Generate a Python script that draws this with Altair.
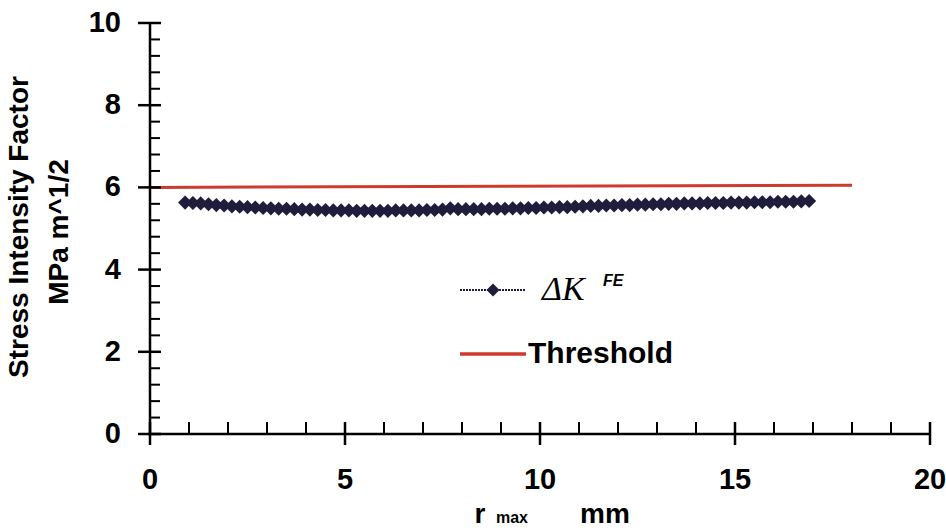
import altair as alt
import pandas as pd

# ---- data ----
r_max = [0.9, 1.1, 1.3, 1.5, 1.7, 1.9, 2.1, 2.3, 2.5, 2.7, 2.9, 3.1, 3.3, 3.5, 3.7, 3.9,
         4.1, 4.3, 4.5, 4.7, 4.9, 5.1, 5.3, 5.5, 5.7, 5.9, 6.1, 6.3, 6.5, 6.7, 6.9, 7.1,
         7.3, 7.5, 7.7, 7.9, 8.1, 8.3, 8.5, 8.7, 8.9, 9.1, 9.3, 9.5, 9.7, 9.9, 10.1, 10.3,
         10.5, 10.7, 10.9, 11.1, 11.3, 11.5, 11.7, 11.9, 12.1, 12.3, 12.5, 12.7, 12.9, 13.1,
         13.3, 13.5, 13.7, 13.9, 14.1, 14.3, 14.5, 14.7, 14.9, 15.1, 15.3, 15.5, 15.7, 15.9,
         16.1, 16.3, 16.5, 16.7, 16.9]
dK_fe = [5.63, 5.62, 5.61, 5.59, 5.57, 5.56, 5.54, 5.53, 5.52, 5.51, 5.50, 5.49, 5.48, 5.48,
         5.47, 5.46, 5.46, 5.45, 5.45, 5.44, 5.44, 5.44, 5.43, 5.43, 5.43, 5.43, 5.43, 5.44,
         5.44, 5.44, 5.44, 5.45, 5.45, 5.46, 5.49, 5.47, 5.47, 5.47, 5.47, 5.48, 5.48, 5.48,
         5.49, 5.49, 5.50, 5.50, 5.51, 5.51, 5.52, 5.52, 5.53, 5.54, 5.55, 5.55, 5.56, 5.56,
         5.57, 5.57, 5.58, 5.58, 5.59, 5.59, 5.60, 5.60, 5.61, 5.61, 5.61, 5.62, 5.62, 5.62,
         5.63, 5.63, 5.63, 5.64, 5.64, 5.64, 5.65, 5.65, 5.65, 5.66, 5.67]
thr_x = [0, 18]
thr_y = [6.0, 6.05]

x_major = [0, 5, 10, 15, 20]
x_minor = [1, 2, 3, 4, 6, 7, 8, 9, 11, 12, 13, 14, 16, 17, 18, 19]
y_major = [0, 2, 4, 6, 8, 10]
y_minor = [0.4, 0.8, 1.2, 1.6, 2.4, 2.8, 3.2, 3.6, 4.4, 4.8, 5.2, 5.6,
           6.4, 6.8, 7.2, 7.6, 8.4, 8.8, 9.2, 9.6]

W, H = 780, 411
FONT = "Liberation Sans"
NAVY = "#1e1e3c"
RED = "#cf3a2e"

xs = alt.Scale(domain=[0, 20], nice=False, zero=True)
ys = alt.Scale(domain=[0, 10], nice=False, zero=True)

series = pd.DataFrame({"r": r_max, "k": dK_fe})
thr = pd.DataFrame({"r": thr_x, "k": thr_y})
xmaj = pd.DataFrame({"v": x_major, "lab": [str(v) for v in x_major]})
xmin = pd.DataFrame({"v": x_minor})
ymaj = pd.DataFrame({"v": y_major, "lab": [str(v) for v in y_major]})
ymin = pd.DataFrame({"v": y_minor})
one = pd.DataFrame({"a": [0]})

X = lambda f: alt.X(f, type="quantitative", scale=xs, axis=None)
Y = lambda f: alt.Y(f, type="quantitative", scale=ys, axis=None)

threshold = alt.Chart(thr).mark_line(color=RED, strokeWidth=3).encode(x=X("r"), y=Y("k"))
s_line = alt.Chart(series).mark_line(color=NAVY, strokeWidth=3).encode(
    x=X("r"), y=Y("k"))
s_pts = alt.Chart(series).mark_point(shape="diamond", filled=True, size=200, color=NAVY,
                                     opacity=1).encode(x=X("r"), y=Y("k"))

axis_x = alt.Chart(one).mark_rule(color="black", strokeWidth=2.5).encode(
    x=alt.value(-2), x2=alt.value(W + 1), y=alt.value(H))
axis_y = alt.Chart(one).mark_rule(color="black", strokeWidth=2.5).encode(
    x=alt.value(0), y=alt.value(0), y2=alt.value(H + 1))

xt_min = alt.Chart(xmin).mark_rule(color="black", strokeWidth=2).encode(
    x=X("v"), y=alt.value(H - 12), y2=alt.value(H))
xt_maj = alt.Chart(xmaj).mark_rule(color="black", strokeWidth=2.5).encode(
    x=X("v"), y=alt.value(H - 12), y2=alt.value(H + 11))
yt_min = alt.Chart(ymin).mark_rule(color="black", strokeWidth=2).encode(
    y=Y("v"), x=alt.value(0), x2=alt.value(10))
yt_maj = alt.Chart(ymaj).mark_rule(color="black", strokeWidth=2.5).encode(
    y=Y("v"), x=alt.value(-12), x2=alt.value(11))

x_lab = alt.Chart(xmaj).mark_text(font=FONT, fontWeight="bold", fontSize=29, baseline="middle",
                                  align="center", color="black").encode(
    x=X("v"), y=alt.value(H + 46), text="lab:N")
y_lab = alt.Chart(ymaj).mark_text(font=FONT, fontWeight="bold", fontSize=29, baseline="middle",
                                  align="right", color="black").encode(
    y=Y("v"), x=alt.value(-29), text="lab:N")

def txt(t, x, y, size, weight="bold", font=FONT, angle=0, align="center", baseline="middle",
        style="normal", color="black"):
    return alt.Chart(one).mark_text(text=t, font=font, fontSize=size, fontWeight=weight,
                                    angle=angle, align=align, baseline=baseline,
                                    fontStyle=style, color=color).encode(
        x=alt.value(x), y=alt.value(y))

ytitle1 = txt("Stress Intensity Factor", -130, 204, 28, angle=270)
ytitle2 = txt("MPa m^1/2", -90, 209, 28, angle=270)
xt_r = txt("r", 330, 500, 28, align="center", baseline="alphabetic")
xt_max = txt("max", 362, 500, 16, align="center", baseline="alphabetic")
xt_mm = txt("mm", 455, 500, 28, align="center", baseline="alphabetic")

# legend
leg1_line = alt.Chart(one).mark_rule(color=NAVY, strokeWidth=2, strokeDash=[2, 1]).encode(
    x=alt.value(310), x2=alt.value(376), y=alt.value(267))
leg1_pt = alt.Chart(one).mark_point(shape="diamond", filled=True, size=170, color=NAVY,
                                    opacity=1).encode(x=alt.value(343), y=alt.value(267))
leg1_txt = txt("\u0394K", 392, 267, 34, weight="normal", font="Liberation Serif",
               style="italic", align="left")
leg1_sup = txt("FE", 453, 258, 16, style="italic", align="left")
leg2_line = alt.Chart(one).mark_rule(color=RED, strokeWidth=3.5).encode(
    x=alt.value(310), x2=alt.value(376), y=alt.value(331))
leg2_txt = txt("Threshold", 378, 331, 30, align="left")

chart = alt.layer(
    threshold, s_line, s_pts,
    axis_x, axis_y, xt_min, xt_maj, yt_min, yt_maj, x_lab, y_lab,
    ytitle1, ytitle2, xt_r, xt_max, xt_mm,
    leg1_line, leg1_pt, leg1_txt, leg1_sup, leg2_line, leg2_txt,
).properties(
    width=W, height=H,
    autosize=alt.AutoSizeParams(type="none"),
    padding={"left": 150, "top": 23, "right": 16, "bottom": 96},
    background="white",
).configure_view(stroke=None)

chart.save("out.html", embed_options={"renderer": "svg", "actions": False})
